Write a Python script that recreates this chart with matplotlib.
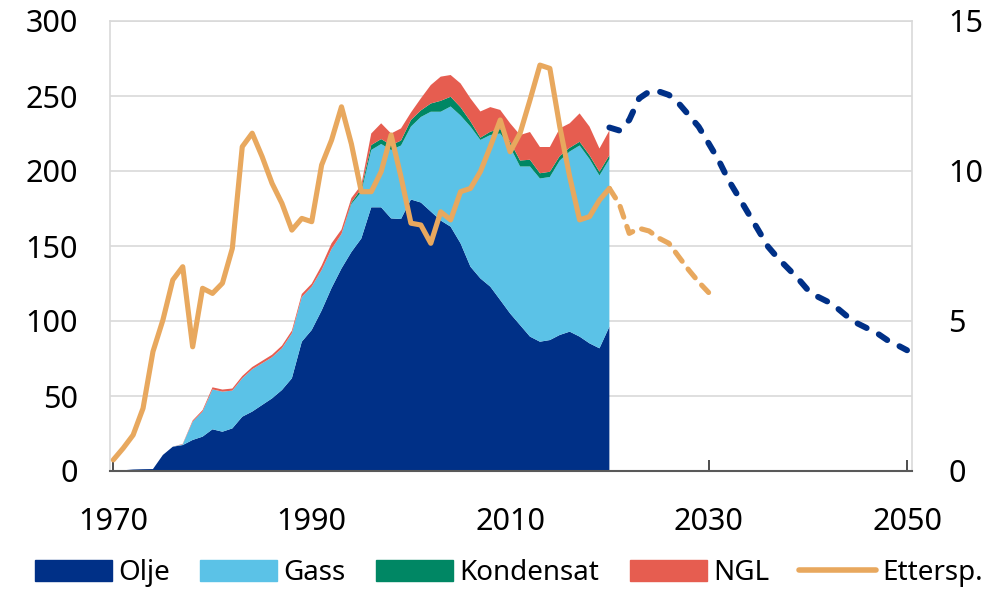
import matplotlib
matplotlib.use("Agg")
import matplotlib.pyplot as plt
import numpy as np
from matplotlib.lines import Line2D
from matplotlib.patches import Patch

plt.rcParams['font.family'] = ['Noto Sans', 'DejaVu Sans']

years = list(range(1970, 2021))
olje = [0.3, 0.5, 1.0, 1.2, 1.3, 10.7, 16.2, 17.3, 20.7, 22.9,
        27.8, 26.2, 28.4, 36.2, 39.6, 44.0, 48.4, 54.0, 61.8, 86.2,
        94.0, 107.0, 122.0, 135.0, 146.0, 155.0, 175.8, 175.8, 168.4, 168.0,
        181.0, 179.0, 173.0, 167.0, 162.9, 151.8, 136.2, 128.4, 122.9, 114.0,
        105.0, 97.3, 89.6, 86.2, 87.3, 90.7, 92.9, 89.6, 85.1, 81.8, 96.2]
gass = [0, 0, 0, 0, 0, 0, 0, 0.5, 12.2, 16.7,
        26.6, 26.7, 25.2, 25.6, 28.2, 27.8, 27.4, 27.8, 30.0, 29.8,
        28.9, 27.0, 26.0, 23.0, 32.0, 31.0, 38.2, 42.2, 45.6, 49.0,
        48.6, 57.0, 66.5, 72.5, 80.1, 85.2, 93.4, 92.3, 101.1, 111.0,
        111.0, 105.7, 113.4, 108.8, 108.7, 116.3, 120.1, 127.4, 122.9, 115.2, 111.8]
kondensat = [0] * 24 + [1.0, 2.2, 3.3, 3.3, 3.3, 3.3,
        4.4, 4.4, 5.5, 7.3, 6.5, 5.5, 3.5, 1.5, 2.2, 3.0,
        3.5, 4.0, 4.5, 3.5, 3.5, 3.0, 2.5, 2.5, 2.5, 2.5, 2.5]
ngl = [0, 0, 0, 0, 0, 0, 0, 0.3, 0.8, 1.0,
       1.4, 1.4, 1.4, 1.5, 1.5, 1.6, 1.7, 1.8, 1.8, 2.0,
       2.0, 3.0, 3.8, 3.0, 3.0, 2.5, 7.7, 10.5, 7.7, 8.1,
       5.0, 8.0, 12.3, 16.1, 14.5, 15.9, 15.3, 17.5, 16.4, 12.7,
       12.3, 17.0, 18.5, 17.5, 16.5, 18.4, 16.3, 18.9, 19.1, 15.5, 16.5]
ettersp = [0.37, 0.76, 1.2, 2.09, 3.98, 5.03, 6.37, 6.81, 4.14, 6.09,
           5.92, 6.26, 7.42, 10.81, 11.26, 10.48, 9.59, 8.92, 8.03, 8.42,
           8.31, 10.2, 11.03, 12.14, 10.9, 9.31, 9.31, 9.98, 11.2, 9.8,
           8.26, 8.2, 7.59, 8.64, 8.37, 9.31, 9.42, 9.98, 10.81, 11.7,
           10.64, 11.26, 12.37, 13.53, 13.42, 11.48, 9.81, 8.37, 8.48, 9.03, 9.42]
proj_years = list(range(2020, 2051))
proj_total = [229, 227, 234, 248.4, 252.9, 253, 250.7, 245, 237.3, 229.5,
              218.5, 207.3, 194, 183, 171.8, 160.7, 149.5, 141.8, 135.1, 128.4,
              120.7, 116.2, 112.9, 108.4, 102.9, 98.4, 95.1, 91.8, 87.3, 84, 80.5]
etter_years = list(range(2020, 2031))
etter_proj = [9.42, 8.9, 7.92, 8.09, 8.0, 7.76, 7.59, 7.14, 6.7, 6.3, 5.95]

labels = ['Olje', 'Gass', 'Kondensat', 'NGL', 'Ettersp.']
c_olje = '#003087'
c_gass = '#5BC2E7'
c_kond = '#008764'
c_ngl = '#E65D50'
c_etter = '#E8A85E'

W, H = 992, 593
fig = plt.figure(figsize=(W / 100, H / 100), dpi=100)
ax = fig.add_axes([110 / W, 1 - 471 / H, (912 - 110) / W, 450 / H])

ax.stackplot(years, olje, gass, kondensat, ngl,
             colors=[c_olje, c_gass, c_kond, c_ngl], linewidth=0, zorder=2)
ax.plot(proj_years, proj_total, color=c_olje, lw=4.3, ls=(0, (1.7, 2.3)),
        dash_capstyle='round', zorder=4)

ax.set_xlim(1969.67, 2050.5)
ax.set_ylim(0, 300)
ax.set_yticks([0, 50, 100, 150, 200, 250, 300])
ax.set_xticks([1970, 1990, 2010, 2030, 2050])
ax.grid(axis='y', color='#d9d9d9', lw=1.2, zorder=0)
ax.set_axisbelow(True)
for s in ['left', 'top', 'right']:
    ax.spines[s].set_color('#d9d9d9')
    ax.spines[s].set_linewidth(1.2)
ax.spines['bottom'].set_color('#595959')
ax.spines['bottom'].set_linewidth(1.5)
ax.spines['bottom'].set_zorder(5)
ax.tick_params(axis='y', length=0, pad=23, labelsize=22, colors='black')
ax.tick_params(axis='x', direction='in', length=8, width=1.3, color='#404040',
               pad=26, labelsize=22)

ax2 = ax.twinx()
ax2.set_ylim(0, 15)
ax2.set_yticks([0, 5, 10, 15])
ax2.tick_params(axis='y', length=0, pad=26, labelsize=22)
for s in ax2.spines.values():
    s.set_visible(False)
ax2.plot(years, ettersp, color=c_etter, lw=3.7, solid_capstyle='round',
         solid_joinstyle='round', zorder=3)
ax2.plot(etter_years, etter_proj, color=c_etter, lw=3.7, ls=(0, (2.2, 1.9)),
         dash_capstyle='round', zorder=3)

handles = [Patch(color=c_olje), Patch(color=c_gass), Patch(color=c_kond),
           Patch(color=c_ngl),
           Line2D([0], [0], color=c_etter, lw=4, solid_capstyle='round')]
fig.legend(handles, labels, loc='center left', bbox_to_anchor=(35 / W, 1 - 573 / H),
           ncol=5, frameon=False, fontsize=20, handlelength=2.77, handleheight=0.76,
           handletextpad=0.22, columnspacing=1.1, borderpad=0, borderaxespad=0)

fig.savefig('out.png', dpi=100)
